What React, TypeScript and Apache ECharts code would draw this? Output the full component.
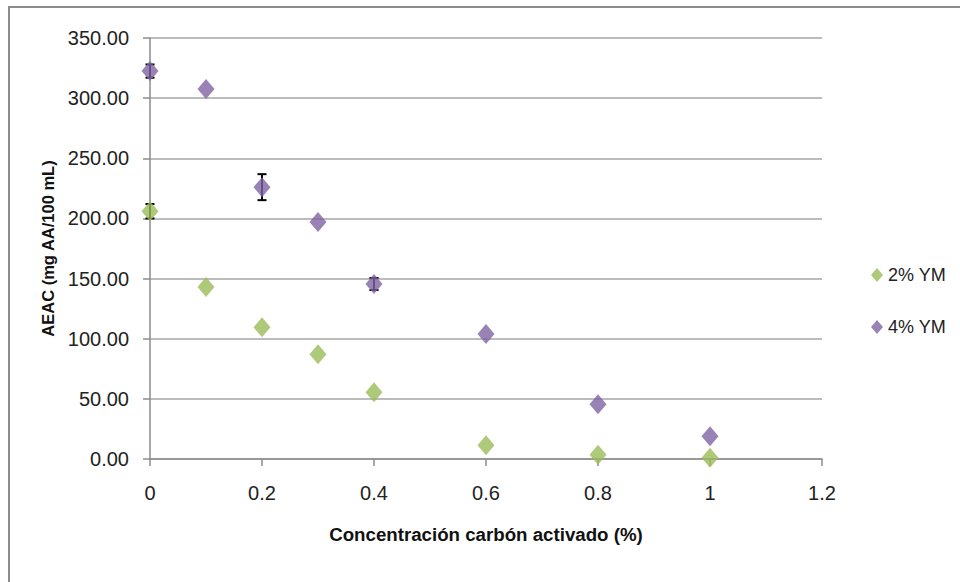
import React, { useEffect, useRef } from "react";
import * as echarts from "echarts";

const xValues = [0, 0.1, 0.2, 0.3, 0.4, 0.6, 0.8, 1];
const series2 = [206, 143, 109.5, 87, 55.5, 11.5, 3.5, 1];
const series4 = [322.5, 307.5, 226, 197, 145.5, 104, 45.5, 19];
const err2 = [6, 0, 0, 0, 0, 0, 0, 0];
const err4 = [5.5, 0, 10.8, 0, 5, 0, 0, 0];
const seriesNames = ["2% YM", "4% YM"];
const xTitle = "Concentración carbón activado (%)";
const yTitle = "AEAC (mg AA/100 mL)";

const FONT = "'Liberation Sans', Arial, sans-serif";
const GREEN = "#9BBB59";
const PURPLE = "#8064A2";

function errData(vals: number[], errs: number[]) {
  return xValues
    .map((x, i) => [x, vals[i], errs[i]])
    .filter((d) => d[2] > 0);
}

function renderErr(params: any, api: any) {
  const x = api.value(0);
  const y = api.value(1);
  const e = api.value(2);
  const top = api.coord([x, y + e]);
  const bot = api.coord([x, y - e]);
  const w = 4.5;
  const style = { stroke: "#000", lineWidth: 2 };
  return {
    type: "group",
    children: [
      { type: "line", shape: { x1: top[0], y1: top[1], x2: bot[0], y2: bot[1] }, style },
      { type: "line", shape: { x1: top[0] - w, y1: top[1], x2: top[0] + w, y2: top[1] }, style },
      { type: "line", shape: { x1: bot[0] - w, y1: bot[1], x2: bot[0] + w, y2: bot[1] }, style },
    ],
  };
}

export default function App() {
  const ref = useRef<HTMLDivElement>(null);
  useEffect(() => {
    document.body.style.margin = "0";
    const chart = echarts.init(ref.current!, null, { renderer: "svg" });
    chart.setOption({
      animation: false,
      backgroundColor: "#fff",
      graphic: [
        {
          type: "rect",
          shape: { x: 9, y: 7, width: 1000, height: 1000 },
          style: { fill: "none", stroke: "#8c8c8c", lineWidth: 2 },
          silent: true,
        },
      ],
      grid: { left: 150, right: 138, top: 38, bottom: 123 },
      legend: {
        orient: "vertical",
        left: 866,
        top: 261,
        itemWidth: 12,
        itemHeight: 14,
        itemGap: 34,
        icon: "diamond",
        textStyle: { fontFamily: FONT, fontSize: 18, color: "#222" },
        data: seriesNames,
      },
      xAxis: {
        type: "value",
        min: 0,
        max: 1.2,
        interval: 0.2,
        name: xTitle,
        nameLocation: "middle",
        nameGap: 66,
        nameTextStyle: { fontFamily: FONT, fontSize: 18.7, fontWeight: "bold", color: "#111" },
        axisLine: { show: true, lineStyle: { color: "#8c8c8c", width: 1.5 } },
        axisTick: { show: true, length: 7, lineStyle: { color: "#8c8c8c", width: 1.5 } },
        splitLine: { show: false },
        axisLabel: {
          fontFamily: FONT,
          fontSize: 20,
          color: "#222",
          margin: 24,
          formatter: (v: number) => String(Math.round(v * 10) / 10),
        },
      },
      yAxis: {
        type: "value",
        min: 0,
        max: 350,
        interval: 50,
        name: yTitle,
        nameLocation: "middle",
        nameGap: 89,
        nameTextStyle: { fontFamily: FONT, fontSize: 16.5, fontWeight: "bold", color: "#111" },
        axisLine: { show: true, lineStyle: { color: "#8c8c8c", width: 1.5 } },
        axisTick: { show: true, length: 7, lineStyle: { color: "#8c8c8c", width: 1.5 } },
        splitLine: { show: true, lineStyle: { color: "#a6a6a6", width: 1.5 } },
        axisLabel: {
          fontFamily: FONT,
          fontSize: 20,
          color: "#222",
          margin: 21,
          formatter: (v: number) => v.toFixed(2),
        },
      },
      series: [
        {
          type: "custom",
          renderItem: renderErr,
          data: errData(series2, err2),
          z: 1,
          silent: true,
        },
        {
          type: "custom",
          renderItem: renderErr,
          data: errData(series4, err4),
          z: 1,
          silent: true,
        },
        {
          name: seriesNames[0],
          type: "scatter",
          symbol: "diamond",
          symbolSize: [17, 20],
          itemStyle: { color: GREEN },
          data: xValues.map((x, i) => [x, series2[i]]),
          z: 3,
        },
        {
          name: seriesNames[1],
          type: "scatter",
          symbol: "diamond",
          symbolSize: [17, 20],
          itemStyle: { color: PURPLE },
          data: xValues.map((x, i) => [x, series4[i]]),
          z: 3,
        },
      ],
    });
    return () => chart.dispose();
  }, []);
  return <div ref={ref} style={{ width: 960, height: 582 }} />;
}
